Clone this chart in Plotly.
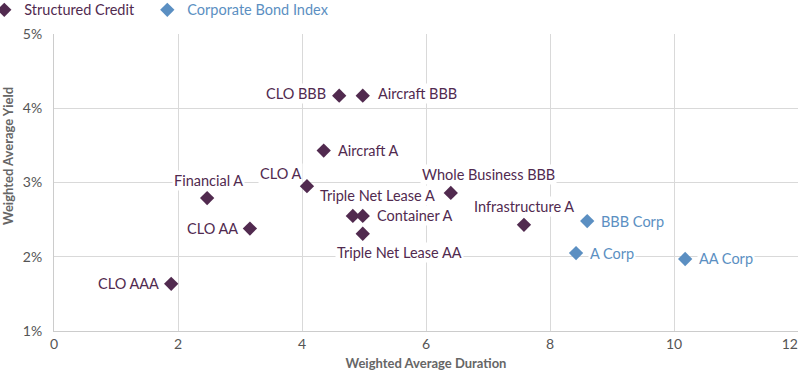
import plotly.graph_objects as go

# Structured credit data
sc_names = ["CLO AAA", "CLO AA", "Financial A", "CLO A", "CLO BBB", "Aircraft BBB",
            "Aircraft A", "Triple Net Lease A", "Container A", "Triple Net Lease AA",
            "Whole Business BBB", "Infrastructure A"]
sc_duration = [1.89, 3.16, 2.47, 4.08, 4.60, 4.98, 4.35, 4.82, 4.98, 4.98, 6.40, 7.58]
sc_yield = [1.635, 2.38, 2.79, 2.95, 4.17, 4.17, 3.43, 2.55, 2.55, 2.31, 2.86, 2.43]

# Corporate bond index data
corp_names = ["BBB Corp", "A Corp", "AA Corp"]
corp_duration = [8.60, 8.42, 10.18]
corp_yield = [2.48, 2.05, 1.97]

x_ticks = [0, 2, 4, 6, 8, 10, 12]
x_tick_labels = ["0", "2", "4", "6", "8", "10", ""]
x_last_tick = [12]
x_last_label = ["12"]
y_ticks = [1, 2, 3, 4, 5]
y_tick_labels = ["1%", "2%", "3%", "4%", "5%"]

PURPLE = "#512a4f"
BLUE = "#5b8fc2"
FONT = "Lato"

# label placement: (xanchor, xshift, yshift)
sc_label_pos = {
    "CLO AAA": ("right", -10, 0),
    "CLO AA": ("right", -10, 0),
    "Financial A": ("center", 1, 18),
    "CLO A": ("right", -4, 13),
    "CLO BBB": ("right", -11, 2),
    "Aircraft BBB": ("left", 13, 2),
    "Aircraft A": ("left", 12, 0),
    "Triple Net Lease A": ("center", 25, 20),
    "Container A": ("left", 12, 0),
    "Triple Net Lease AA": ("center", 37, -19),
    "Whole Business BBB": ("center", 38, 18),
    "Infrastructure A": ("center", 0, 18),
}
corp_label_pos = {
    "BBB Corp": ("left", 12, 0),
    "A Corp": ("left", 12, 0),
    "AA Corp": ("left", 12, 0),
}

fig = go.Figure()
fig.add_trace(go.Scatter(
    x=sc_duration, y=sc_yield, mode="markers", name="Structured Credit",
    marker=dict(symbol="diamond", size=11, color=PURPLE), legend="legend",
))
fig.add_trace(go.Scatter(
    x=corp_duration, y=corp_yield, mode="markers", name="Corporate Bond Index",
    marker=dict(symbol="diamond", size=11, color=BLUE), legend="legend2",
))
# empty helper trace so the overlay axis (carrying the "12" label) is drawn
fig.add_trace(go.Scatter(x=[], y=[], xaxis="x2", yaxis="y", mode="markers",
                         showlegend=False, hoverinfo="skip"))

annotations = []
for n, x, y in zip(sc_names, sc_duration, sc_yield):
    xa, xs, ys = sc_label_pos[n]
    annotations.append(dict(x=x, y=y, text=n, showarrow=False, xanchor=xa,
                            xshift=xs, yshift=ys, bgcolor="white", borderpad=1,
                            font=dict(family=FONT, size=14.5, color=PURPLE)))
for n, x, y in zip(corp_names, corp_duration, corp_yield):
    xa, xs, ys = corp_label_pos[n]
    annotations.append(dict(x=x, y=y, text=n, showarrow=False, xanchor=xa,
                            xshift=xs, yshift=ys, bgcolor="white", borderpad=1,
                            font=dict(family=FONT, size=14.5, color=BLUE)))
annotations.append(dict(x=-0.062, y=0.589, xref="paper", yref="paper",
                        text="<b>Weighted Average Yield</b>", textangle=-90,
                        showarrow=False, xanchor="center", yanchor="middle",
                        font=dict(family=FONT, size=13, color="#666666")))

legend_common = dict(orientation="h", xanchor="left", y=1.135, yanchor="top",
                     itemclick=False, itemdoubleclick=False, bgcolor="rgba(0,0,0,0)")

fig.update_layout(
    width=800, height=376,
    margin=dict(l=54, r=2, t=34, b=45, autoexpand=False),
    paper_bgcolor="white", plot_bgcolor="white",
    font=dict(family=FONT, size=14, color="#555555"),
    showlegend=True,
    legend=dict(x=-0.0937, font=dict(family=FONT, size=14.5, color=PURPLE), **legend_common),
    legend2=dict(x=0.1254, font=dict(family=FONT, size=14.5, color=BLUE), **legend_common),
    annotations=annotations,
    xaxis=dict(range=[0, 12], tickvals=x_ticks, ticktext=x_tick_labels, showgrid=True,
               gridcolor="#d9d9d9", gridwidth=1, zeroline=False, showline=True,
               linecolor="#cccccc", ticks="",
               tickfont=dict(family=FONT, size=14, color="#555555"),
               title=dict(text="<b>Weighted Average Duration</b>", standoff=8,
                          font=dict(family=FONT, size=13, color="#666666"))),
    xaxis2=dict(range=[0, 12], overlaying="x", side="bottom", tickvals=x_last_tick,
                ticktext=x_last_label, ticklabelposition="outside left",
                ticklabelstandoff=3,
                showgrid=False, zeroline=False, showline=False, ticks="",
                tickfont=dict(family=FONT, size=14, color="#555555")),
    yaxis=dict(range=[1, 5], tickvals=y_ticks, ticktext=y_tick_labels, showgrid=True,
               gridcolor="#d9d9d9", gridwidth=1, zeroline=False, showline=True,
               linecolor="#cccccc", ticks="", ticklabelstandoff=8,
               tickfont=dict(family=FONT, size=14, color="#555555")),
)

fig.write_html("out.html", config={"displayModeBar": False},
               post_script="document.body.style.margin='0';")
